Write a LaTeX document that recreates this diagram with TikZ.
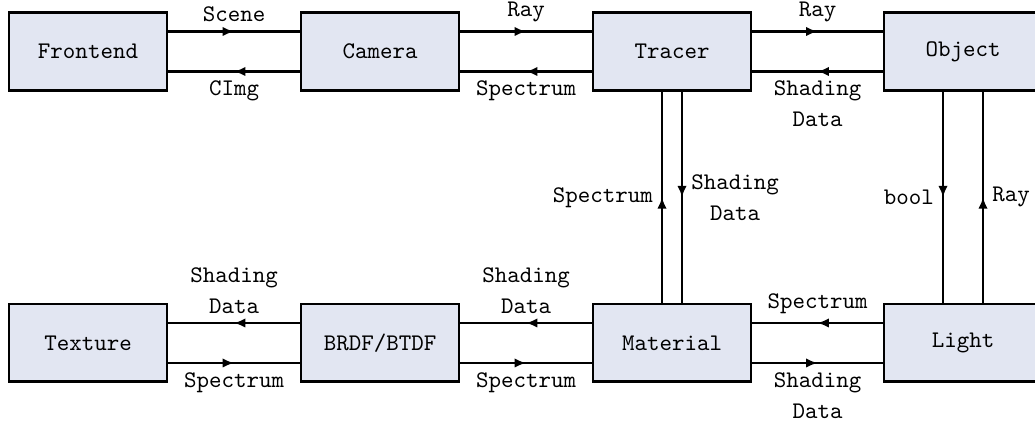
\documentclass[tikz,border=0pt]{standalone}
\usetikzlibrary{arrows.meta,decorations.markings}
\definecolor{boxfill}{RGB}{226,230,242}
\tikzset{
  box/.style={draw=black, line width=1.1pt, fill=boxfill, minimum width=66.4pt,
    minimum height=32.6pt, inner sep=0pt, font=\ttfamily},
  flow/.style={line width=1.1pt, postaction={decorate},
    decoration={markings, mark=at position 0.5 with {\arrow{Latex[length=4.8pt,width=4pt]}}}},
  lbl/.style={font=\ttfamily, align=center},
}
\begin{document}
\begin{tikzpicture}[x=0.42pt,y=0.42pt]
\useasboundingbox (0,0) rectangle (1035,-424);
\clip (0,0) rectangle (1035,-424);
% top row
\node[box] (fe)  at (88,-51.5)  {Frontend};
\node[box] (cam) at (380,-51.5) {Camera};
\node[box] (tr)  at (672,-51.5) {Tracer};
\node[box] (obj) at (963,-51.5) {Object};
% bottom row
\node[box] (tex) at (88,-343)  {Texture};
\node[box] (brdf) at (380,-343) {BRDF/BTDF};
\node[box] (mat) at (672,-343) {Material};
\node[box] (li)  at (963,-343) {Light};
% top row connectors
\draw[flow] ([yshift=8.4pt]fe.east) -- node[lbl,above]{Scene} ([yshift=8.4pt]cam.west);
\draw[flow] ([yshift=-8.4pt]cam.west) -- node[lbl,below]{CImg} ([yshift=-8.4pt]fe.east);
\draw[flow] ([yshift=8.4pt]cam.east) -- node[lbl,above]{Ray} ([yshift=8.4pt]tr.west);
\draw[flow] ([yshift=-8.4pt]tr.west) -- node[lbl,below]{Spectrum} ([yshift=-8.4pt]cam.east);
\draw[flow] ([yshift=8.4pt]tr.east) -- node[lbl,above]{Ray} ([yshift=8.4pt]obj.west);
\draw[flow] ([yshift=-8.4pt]obj.west) -- node[lbl,below]{Shading\\[1pt]Data} ([yshift=-8.4pt]tr.east);
% verticals
\draw[flow] ([xshift=-4.2pt]mat.north) -- node[lbl,left]{Spectrum} ([xshift=-4.2pt]tr.south);
\draw[flow] ([xshift=4.2pt]tr.south) -- node[lbl,right]{Shading\\[1pt]Data} ([xshift=4.2pt]mat.north);
\draw[flow] ([xshift=-8.4pt]obj.south) -- node[lbl,left]{bool} ([xshift=-8.4pt]li.north);
\draw[flow] ([xshift=8.4pt]li.north) -- node[lbl,right]{Ray} ([xshift=8.4pt]obj.south);
% bottom row connectors
\draw[flow] ([yshift=8.4pt]brdf.west) -- node[lbl,above]{Shading\\[1pt]Data} ([yshift=8.4pt]tex.east);
\draw[flow] ([yshift=-8.4pt]tex.east) -- node[lbl,below]{Spectrum} ([yshift=-8.4pt]brdf.west);
\draw[flow] ([yshift=8.4pt]mat.west) -- node[lbl,above]{Shading\\[1pt]Data} ([yshift=8.4pt]brdf.east);
\draw[flow] ([yshift=-8.4pt]brdf.east) -- node[lbl,below]{Spectrum} ([yshift=-8.4pt]mat.west);
\draw[flow] ([yshift=8.4pt]li.west) -- node[lbl,above]{Spectrum} ([yshift=8.4pt]mat.east);
\draw[flow] ([yshift=-8.4pt]mat.east) -- node[lbl,below]{Shading\\[1pt]Data} ([yshift=-8.4pt]li.west);
\end{tikzpicture}
\end{document}
